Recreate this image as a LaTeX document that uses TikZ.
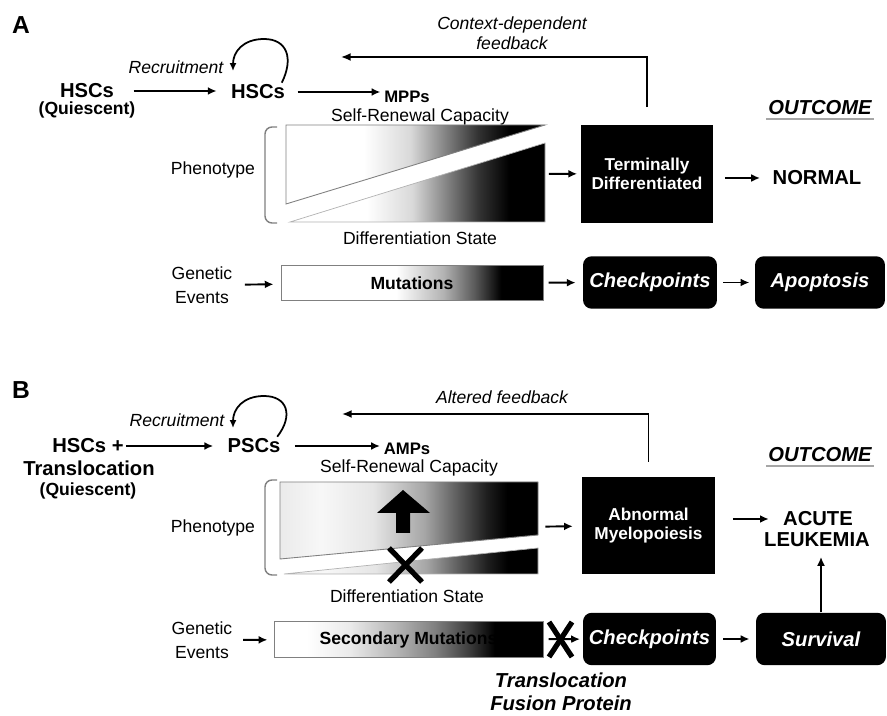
\documentclass[tikz,border=0pt]{standalone}
\usepackage{fontspec}
\setmainfont{Liberation Sans}
\usetikzlibrary{positioning,arrows.meta}

\pgfdeclarehorizontalshading{phenoA}{100bp}{color(0bp)=(white); color(40bp)=(white); color(49bp)=(black!15); color(56bp)=(black!50); color(62bp)=(black!80); color(68bp)=(black); color(100bp)=(black)}
\pgfdeclarehorizontalshading{phenoB}{100bp}{color(0bp)=(black!8); color(25bp)=(black!8); color(33bp)=(black!3); color(43bp)=(black!10); color(53bp)=(black!35); color(59bp)=(black!62); color(65bp)=(black!88); color(69bp)=(black); color(100bp)=(black)}
\pgfdeclarehorizontalshading{mutA}{100bp}{color(0bp)=(white); color(47bp)=(white); color(56bp)=(black!30); color(62bp)=(black!65); color(67bp)=(black); color(100bp)=(black)}
\pgfdeclarehorizontalshading{mutB}{100bp}{color(0bp)=(white); color(31bp)=(white); color(39bp)=(black!8); color(48bp)=(black!30); color(55bp)=(black!50); color(61bp)=(black!75); color(66bp)=(black); color(100bp)=(black)}

\tikzset{
  lbl/.style={inner sep=1pt, align=center, font=\fontsize{10}{11.3}\selectfont},
  itl/.style={lbl, font=\fontsize{10}{11.3}\selectfont\itshape},
  gen/.style={lbl, font=\fontsize{10}{13.6}\selectfont},
  cell/.style={inner sep=1pt, font=\fontsize{11.5}{13}\selectfont\bfseries},
  sub/.style={inner sep=1pt, font=\fontsize{10}{12}\selectfont\bfseries},
  small/.style={inner sep=1pt, font=\fontsize{9.5}{11}\selectfont\bfseries},
  panel/.style={inner sep=1pt, font=\fontsize{14}{16}\selectfont\bfseries},
  outc/.style={inner sep=1pt, font=\fontsize{11.5}{13}\selectfont\bfseries\itshape},
  tfp/.style={inner sep=1pt, align=center, font=\fontsize{11.5}{13}\selectfont\bfseries\itshape},
  blkbox/.style={fill=black, text=white, align=center, inner sep=2pt,
    font=\fontsize{9.8}{10.5}\selectfont\bfseries},
  rndbox/.style={fill=black, text=white, rounded corners=5pt, inner sep=2pt,
    minimum height=1.05cm, font=\fontsize{11.5}{13}\selectfont\bfseries\itshape},
  gradbox/.style={shade, draw=gray, line width=0.5pt, inner sep=1pt,
    minimum height=0.71cm, font=\fontsize{10}{12}\selectfont\bfseries},
  arr/.style={-{Latex[length=5pt,width=4.5pt]}, line width=1.1pt},
  fb/.style={-{Latex[length=5.5pt,width=4.5pt]}, line width=0.9pt},
  loopy/.style={-{Latex[length=4.5pt,width=4pt]}, line width=1pt},
  brack/.style={draw=gray, line width=0.8pt, rounded corners=4pt},
  cross/.style={line width=3pt},
  uline/.style={draw=gray!70, line width=1.2pt}
}

\begin{document}
\begin{tikzpicture}[x=0.02cm, y=-0.02cm]
\useasboundingbox (0,0) rectangle (887,716);

% ---- panel A ----
\node[panel] (pa) at (21,25) {A};
\node[cell] (hsc0A) at (87,91) {HSCs};
\node[sub] (quiA) at (87,110) {(Quiescent)};
\node[itl] (recA) at (176,67) {Recruitment};
\node[cell] (hscA) at (258,92) {HSCs};
\node[small] (mppA) at (407,97) {MPPs};
\node[lbl] (selfA) at (420,117) {Self-Renewal Capacity};
\node[itl] (ctxA) at (512,33) {Context-dependent\\feedback};
\node[lbl] (phA) at (213,170) {Phenotype};
\node[lbl] (difA) at (420,238) {Differentiation State};
\node[gen] (genA) at (202,285) {Genetic\\Events};
\node[outc] (outA) at (820,108) {OUTCOME};
\node[cell] (normA) at (817,178) {NORMAL};

\node[blkbox, minimum width=2.64cm, minimum height=1.96cm] (termA) at (647,174) {Terminally\\Differentiated};
\node[rndbox, minimum width=2.68cm] (chkA) at (650,282.5) {Checkpoints};
\node[rndbox, minimum width=2.6cm] (apoA) at (820,282.5) {Apoptosis};
\node[gradbox, shading=mutA, minimum width=5.24cm] (mutA) at (412,283) {Mutations};

% phenotype wedges
\node[inner sep=0, minimum width=5.18cm, minimum height=1.94cm] (phenA) at (415.5,173.5) {};
\shade[shading=phenoA, draw=gray, line width=0.5pt] (286,125) -- (545,125) -- (286,204) -- cycle;
\shade[shading=phenoA, draw=gray!60, line width=0.4pt] (290,222) -- (545,143) -- (545,222) -- cycle;
\draw[brack] (277,127) -- (265,127) -- (265,223) -- (277,223);

\draw[arr, shorten <=10pt, shorten >=7pt] (hsc0A.east) -- (hsc0A.east -| hscA.west);
\draw[arr, shorten <=6pt, shorten >=1pt] (hscA.east) -- (hscA.east -| mppA.west);
\coordinate (rcA) at (233,71);
\draw[loopy] ([xshift=-3pt]hscA.north east) .. controls (294,58) and (287,39) .. (264,39)
  .. controls (243,39) and (233,52) .. (rcA);
\coordinate (fbA) at (341,57);
\draw[fb] ([yshift=10pt]termA.north) |- (fbA);
\draw[arr, shorten <=2pt, shorten >=2pt] (phenA) -- (termA);
\draw[arr, shorten <=6.5pt, shorten >=6pt] (termA.east |- normA) -- (normA);
\draw[arr, shorten <=6pt, shorten >=4pt] (genA) -- (mutA);
\draw[arr, shorten <=3pt, shorten >=4pt] (mutA) -- (chkA);
\draw[arr, shorten <=3.5pt, shorten >=3pt] (chkA) -- (apoA);
\draw[uline] ([yshift=-1pt]outA.south west) -- ([yshift=-1pt]outA.south east);

% ---- panel B ----
\node[panel] (pb) at (21,390) {B};
\node[cell] (hsc0B) at (88,446) {HSCs +};
\node[cell, inner sep=0pt] (trB) at (89,468) {Translocation};
\node[sub, inner sep=0pt] (quiB) at (88,491) {(Quiescent)};
\node[itl] (recB) at (177,420) {Recruitment};
\node[cell] (pscB) at (254,446) {PSCs};
\node[small] (ampB) at (407,449) {AMPs};
\node[lbl] (selfB) at (409,468) {Self-Renewal Capacity};
\node[itl] (altB) at (502,397) {Altered feedback};
\node[lbl] (phB) at (213,528) {Phenotype};
\node[lbl] (difB) at (407,596) {Differentiation State};
\node[gen] (genB) at (202,640) {Genetic\\Events};
\node[outc] (outB) at (820,455) {OUTCOME};
\node[cell] (acuB) at (818,519) {ACUTE};
\node[cell] (leuB) at (817,540) {LEUKEMIA};

\node[blkbox, minimum width=2.66cm, minimum height=1.94cm] (abnB) at (648.5,525.5) {Abnormal\\Myelopoiesis};
\node[rndbox, minimum width=2.66cm] (chkB) at (649.5,639) {Checkpoints};
\node[rndbox, minimum width=2.6cm] (surB) at (821,639) {Survival};
\node[gradbox, shading=mutB, minimum width=5.38cm] (secB) at (408.5,639.5) {Secondary Mutations};
\node[tfp] (tfpB) at (561,692) {Translocation\\Fusion Protein};

% phenotype wedges
\node[inner sep=0, minimum width=5.16cm, minimum height=1.84cm] (phenB) at (409,528) {};
\shade[shading=phenoB, draw=gray, line width=0.5pt] (280,482) -- (538,482) -- (538,535) -- (280,559) -- cycle;
\shade[shading=phenoB, draw=gray!60, line width=0.4pt] (284,574) -- (538,548) -- (538,574) -- cycle;
\draw[brack] (277,480) -- (265,480) -- (265,575) -- (277,575);
\fill (403,490) -- (430,513) -- (410,513) -- (410,533) -- (396,533) -- (396,513) -- (377,513) -- cycle;
\draw[cross] (389,548) -- (422,582);
\draw[cross] (422,548) -- (389,582);

\draw[arr, shorten >=7pt] (hsc0B.east) -- (hsc0B.east -| pscB.west);
\draw[arr, shorten <=7pt, shorten >=1pt] (pscB.east) -- (pscB.east -| ampB.west);
\coordinate (rcB) at (233,428);
\draw[loopy] ([xshift=-3pt]pscB.north east) .. controls (294,415) and (287,396) .. (264,396)
  .. controls (243,396) and (233,409) .. (rcB);
\coordinate (fbB) at (342,414);
\draw[fb] ([yshift=8.5pt]abnB.north) |- (fbB);
\draw[arr, shorten <=4pt, shorten >=5pt] (phenB) -- (abnB);
\draw[arr, shorten <=10pt, shorten >=7pt] (abnB.east |- acuB) -- (acuB);
\draw[arr, shorten <=5pt, shorten >=3.5pt] (genB) -- (secB);
\draw[arr, shorten <=3pt, shorten >=1.5pt] (secB) -- (chkB);
\draw[cross] (549,622) -- (572,657);
\draw[cross] (572,622) -- (549,657);
\draw[arr, shorten <=4pt, shorten >=3.5pt] (chkB) -- (surB);
\draw[arr, line width=0.8pt, shorten >=4.5pt] (surB.north) -- (surB.north |- leuB.south);
\draw[uline] ([yshift=-1pt]outB.south west) -- ([yshift=-1pt]outB.south east);
\end{tikzpicture}
\end{document}
